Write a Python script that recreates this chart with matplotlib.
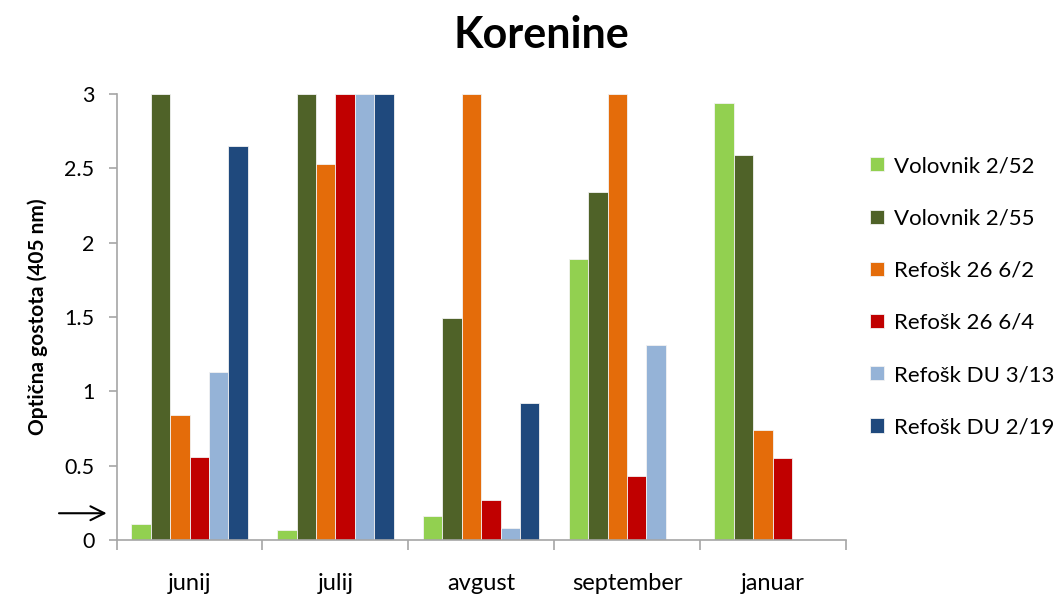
import matplotlib
matplotlib.use("Agg")
import matplotlib.pyplot as plt
import matplotlib.transforms as mtransforms
import numpy as np

plt.rcParams['font.family'] = ['Lato', 'DejaVu Sans']

categories = ["junij", "julij", "avgust", "september", "januar"]
series_names = ["Volovnik 2/52", "Volovnik 2/55", "Refošk 26 6/2",
                "Refošk 26 6/4", "Refošk DU 3/13", "Refošk DU 2/19"]
volovnik_252 = [0.11, 0.07, 0.16, 1.89, 2.94]
volovnik_255 = [3.0, 3.0, 1.49, 2.34, 2.59]
refosk_262 = [0.84, 2.53, 3.0, 3.0, 0.74]
refosk_264 = [0.56, 3.0, 0.27, 0.43, 0.55]
refosk_du313 = [1.13, 3.0, 0.08, 1.31, np.nan]
refosk_du219 = [2.65, 3.0, 0.92, np.nan, np.nan]
series = [volovnik_252, volovnik_255, refosk_262, refosk_264, refosk_du313, refosk_du219]
colors = ["#92D050", "#4F6228", "#E46C0A", "#C00000", "#95B3D7", "#1F497D"]
yticks = [0, 0.5, 1, 1.5, 2, 2.5, 3]
ytick_labels = ["0", "0.5", "1", "1.5", "2", "2.5", "3"]

fig = plt.figure(figsize=(10.61, 5.94), dpi=100)
ax = fig.add_axes([0.110, 0.0909, 0.687, 0.751])

n = len(series)
bw = 0.8 / n
x = np.arange(len(categories))
handles = []
for i, (vals, c, name) in enumerate(zip(series, colors, series_names)):
    h = ax.bar(x - 0.4 + bw * (i + 0.5), vals, width=bw, color=c,
               edgecolor="#F2F2F2", linewidth=0.6, label=name)
    handles.append(h)

ax.set_xlim(-0.5, len(categories) - 0.5)
ax.set_ylim(0, 3)
ax.set_yticks(yticks)
ax.set_yticklabels(ytick_labels, fontsize=15.5)
ax.set_xticks(x)
ax.set_xticklabels(categories, fontsize=17)
ax.tick_params(axis='x', which='major', length=0, pad=24)
ax.set_xticks(np.arange(-0.5, len(categories), 1.0), minor=True)
ax.tick_params(axis='x', which='minor', length=7, color="#A6A6A6", width=1.2)
ax.tick_params(axis='y', length=6, color="#A6A6A6", width=1.2, pad=10)
for s in ["top", "right"]:
    ax.spines[s].set_visible(False)
for s in ["left", "bottom"]:
    ax.spines[s].set_color("#A6A6A6")
    ax.spines[s].set_linewidth(1.2)

ax.set_ylabel("Optična gostota (405 nm)", fontsize=15, fontweight="bold", labelpad=12)
fig.suptitle("Korenine", fontsize=31, fontweight="bold", x=0.51, y=0.975)

trans = mtransforms.blended_transform_factory(ax.transAxes, ax.transData)
ax.annotate("", xy=(-0.010, 0.18), xytext=(-0.083, 0.18), xycoords=trans,
            textcoords=trans,
            arrowprops=dict(arrowstyle="->", color="black", lw=1.5,
                            mutation_scale=25), annotation_clip=False)

fig.legend(handles=handles, labels=series_names, loc="upper left",
           bbox_to_anchor=(0.812, 0.752), frameon=False, fontsize=16,
           labelspacing=1.45, handlelength=0.6, handleheight=0.6,
           handletextpad=0.45, borderaxespad=0)

fig.savefig("out.png", dpi=100)
